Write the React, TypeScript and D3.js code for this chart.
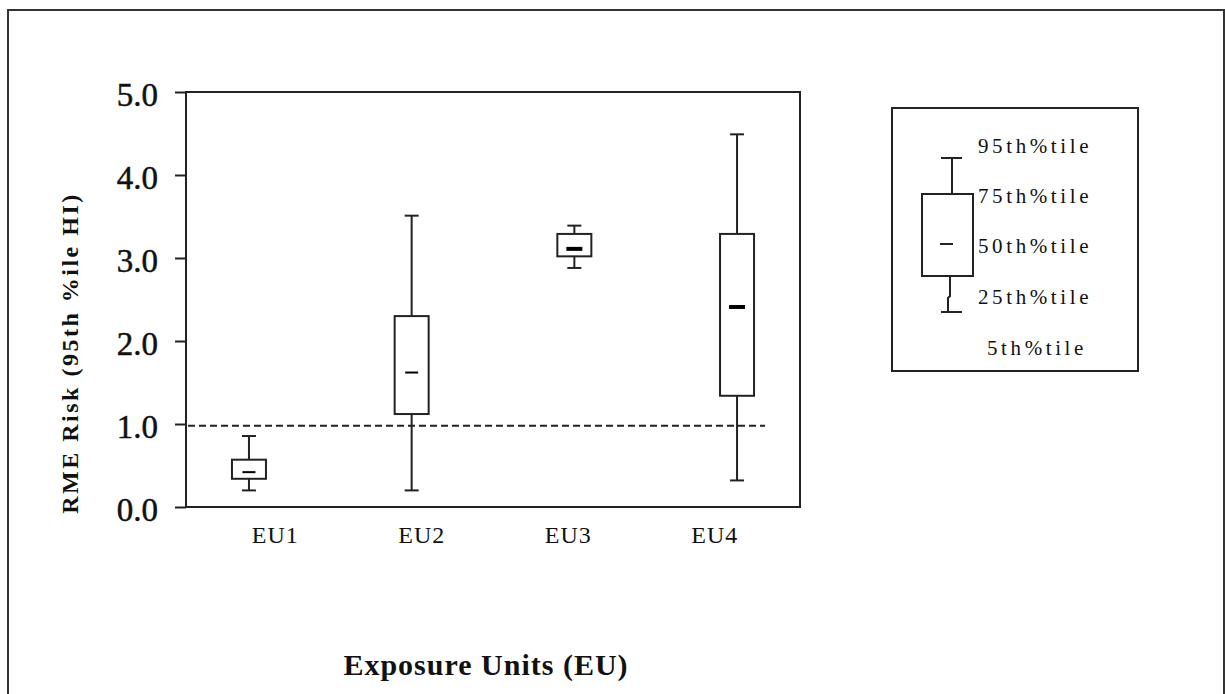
import * as d3 from "d3";
import React, { useEffect, useRef } from "react";

// data
const categories = ["EU1", "EU2", "EU3", "EU4"];
const p5 = [0.2, 0.2, 2.88, 0.32];
const p25 = [0.34, 1.12, 3.02, 1.34];
const p50 = [0.42, 1.62, 3.11, 2.41];
const p75 = [0.57, 2.3, 3.29, 3.29];
const p95 = [0.855, 3.51, 3.39, 4.49];
const boldMedian = [false, false, true, true];
const yTicks = [0, 1, 2, 3, 4, 5];
const threshold = 0.98;
const legendLabels = ["95th%tile", "75th%tile", "50th%tile", "25th%tile", "5th%tile"];

const W = 1225;
const H = 694;
const serif = "'Liberation Serif', 'Times New Roman', serif";
const ink = "#222";

function App() {
    const ref = useRef<SVGSVGElement>(null);

    useEffect(() => {
        const svg = d3.select(ref.current);
        svg.selectAll("*").remove();

        const left = 186, right = 800, top = 92, bottom = 507;

        const y = d3.scaleLinear().domain([0, 5]).range([bottom, top]);
        const x = d3.scalePoint().domain(categories).range([left, right]).padding(0.387);
        const xLabel = d3.scalePoint().domain(categories).range([202, 788]).padding(0.5);

        // outer frame (no bottom edge visible)
        svg.append("path")
            .attr("d", `M8,${H + 5}V10H1224V${H + 5}`)
            .attr("fill", "none")
            .attr("stroke", "#333")
            .attr("stroke-width", 2);

        // plot box
        svg.append("path")
            .attr("d", `M${left},${top}H${right}V${bottom}H${left}Z`)
            .attr("fill", "none")
            .attr("stroke", ink)
            .attr("stroke-width", 2);

        // y axis
        const yAxis = svg.append("g")
            .attr("transform", `translate(${left},0)`)
            .call(d3.axisLeft(y).tickValues(yTicks).tickFormat(d3.format(".1f")).tickSize(11).tickPadding(17));
        yAxis.select(".domain").remove();
        yAxis.selectAll("line").attr("stroke", ink).attr("stroke-width", 2);
        yAxis.selectAll("text")
            .attr("font-family", serif)
            .attr("font-size", 33)
            .attr("stroke", "#111")
            .attr("stroke-width", 0.5)
            .attr("fill", "#111")
            .attr("dy", "0.4em");

        // x labels
        svg.append("g")
            .selectAll("text")
            .data(categories)
            .join("text")
            .attr("x", d => xLabel(d))
            .attr("y", 543)
            .attr("text-anchor", "middle")
            .attr("font-family", serif)
            .attr("font-size", 24)
            .attr("letter-spacing", 1)
            .attr("fill", "#111")
            .text(d => d);

        // threshold line
        svg.append("line")
            .attr("x1", left + 2)
            .attr("x2", 765)
            .attr("y1", y(threshold))
            .attr("y2", y(threshold))
            .attr("stroke", ink)
            .attr("stroke-width", 2)
            .attr("stroke-dasharray", "7,4");

        // boxes
        const boxW = 34, capW = 14;
        const g = svg.append("g");
        categories.forEach((c, i) => {
            const cx = x(c);
            const bx = g.append("g").attr("stroke", ink).attr("fill", "none").attr("stroke-width", 2);
            bx.append("line").attr("x1", cx).attr("x2", cx).attr("y1", y(p95[i])).attr("y2", y(p75[i]));
            bx.append("line").attr("x1", cx).attr("x2", cx).attr("y1", y(p25[i])).attr("y2", y(p5[i]));
            bx.append("line").attr("x1", cx - capW / 2).attr("x2", cx + capW / 2).attr("y1", y(p95[i])).attr("y2", y(p95[i]));
            bx.append("line").attr("x1", cx - capW / 2).attr("x2", cx + capW / 2).attr("y1", y(p5[i])).attr("y2", y(p5[i]));
            bx.append("rect")
                .attr("x", cx - boxW / 2)
                .attr("y", y(p75[i]))
                .attr("width", boxW)
                .attr("height", y(p25[i]) - y(p75[i]))
                .attr("fill", "white");
            const mw = boldMedian[i] ? 16 : 13;
            bx.append("line")
                .attr("x1", cx - mw / 2).attr("x2", cx + mw / 2)
                .attr("y1", y(p50[i])).attr("y2", y(p50[i]))
                .attr("stroke", "#000")
                .attr("stroke-width", boldMedian[i] ? 4 : 2);
        });

        // axis titles
        svg.append("text")
            .attr("transform", `translate(78,353) rotate(-90)`)
            .attr("text-anchor", "middle")
            .attr("font-family", serif)
            .attr("font-weight", "bold")
            .attr("font-size", 24)
            .attr("letter-spacing", 2.5)
            .attr("fill", "#111")
            .text("RME Risk (95th %ile HI)");

        svg.append("text")
            .attr("x", 486)
            .attr("y", 675)
            .attr("text-anchor", "middle")
            .attr("font-family", serif)
            .attr("font-weight", "bold")
            .attr("font-size", 30)
            .attr("letter-spacing", 1)
            .attr("fill", "#111")
            .text("Exposure Units (EU)");

        // legend
        const lg = svg.append("g");
        lg.append("rect")
            .attr("x", 892).attr("y", 108)
            .attr("width", 246).attr("height", 263)
            .attr("fill", "white")
            .attr("stroke", ink)
            .attr("stroke-width", 2);
        const ls = lg.append("g").attr("stroke", ink).attr("stroke-width", 2).attr("fill", "none");
        ls.append("line").attr("x1", 941).attr("x2", 962).attr("y1", 158).attr("y2", 158);
        ls.append("line").attr("x1", 952).attr("x2", 952).attr("y1", 158).attr("y2", 194);
        ls.append("rect").attr("x", 922).attr("y", 194).attr("width", 51).attr("height", 82).attr("fill", "white");
        ls.append("line").attr("x1", 940).attr("x2", 953).attr("y1", 244).attr("y2", 244);
        ls.append("path").attr("d", "M950,276V296L948,298V312");
        ls.append("line").attr("x1", 941).attr("x2", 962).attr("y1", 312).attr("y2", 312);

        const ly = [146, 196, 246, 297, 348];
        const lx = [978, 978, 978, 978, 987];
        lg.selectAll("text.lab")
            .data(legendLabels)
            .join("text")
            .attr("class", "lab")
            .attr("x", (d, i) => lx[i])
            .attr("y", (d, i) => ly[i])
            .attr("dy", "0.35em")
            .attr("font-family", serif)
            .attr("font-size", 21)
            .attr("letter-spacing", 3.6)
            .attr("fill", "#111")
            .text(d => d);
    }, []);

    return (
        <svg
            ref={ref}
            width={W}
            height={H}
            style={{ position: "absolute", left: 0, top: 0, background: "white" }}
        />
    );
}

export default App;
